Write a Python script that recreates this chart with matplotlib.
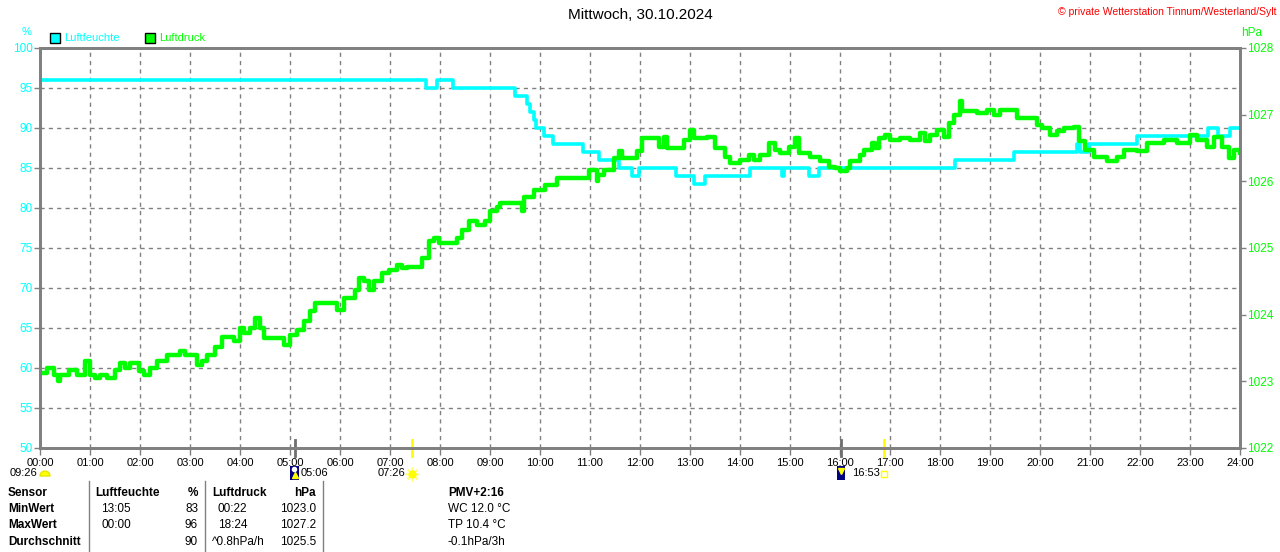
import matplotlib
matplotlib.use("Agg")
import matplotlib.pyplot as plt
from matplotlib.lines import Line2D
from matplotlib.patches import Rectangle, Wedge
from matplotlib.transforms import IdentityTransform, blended_transform_factory

plt.rcParams["font.family"] = ["Liberation Sans", "DejaVu Sans"]

W, H = 1280, 552

# Luftfeuchte (%), Stufen: Zeitpunkt in Stunden -> Wert
feuchte_t = [0.0, 7.72, 7.94, 8.26, 9.50, 9.73, 9.80, 9.87, 9.92, 9.97, 10.07,
             10.25, 10.85, 11.18, 11.57, 11.83, 11.97, 12.72, 13.07, 13.30,
             14.20, 14.83, 14.88, 15.37, 15.57, 18.30, 19.47, 20.73, 20.80,
             20.97, 21.93, 23.36, 23.56, 23.80, 24.0]
feuchte = [96, 95, 96, 95, 94, 93, 92, 91, 90, 90, 89,
           88, 87, 86, 85, 84, 85, 84, 83, 84,
           85, 84, 85, 84, 85, 86, 87, 88, 87,
           88, 89, 90, 89, 90, 90]

# Luftdruck (hPa)
druck_t = [0.00, 0.13, 0.27, 0.35, 0.40, 0.57, 0.73, 0.90, 1.00, 1.10, 1.20,
           1.33, 1.50, 1.60, 1.70, 1.80, 1.97, 2.07, 2.20, 2.33, 2.53, 2.80,
           2.90, 3.13, 3.23, 3.33, 3.50, 3.63, 3.87, 4.00, 4.07, 4.20, 4.30,
           4.40, 4.47, 4.87, 5.00, 5.13, 5.27, 5.40, 5.50, 5.93, 6.07, 6.30,
           6.37, 6.47, 6.57, 6.67, 6.83, 6.97, 7.13, 7.23, 7.33, 7.63, 7.77,
           7.87, 7.97, 8.33, 8.43, 8.57, 8.73, 8.90, 9.00, 9.13, 9.20, 9.63,
           9.67, 9.87, 10.10, 10.33, 10.97, 11.13, 11.15, 11.27, 11.47, 11.57,
           11.63, 11.93, 12.03, 12.37, 12.47, 12.53, 12.87, 12.99, 13.07,
           13.33, 13.50, 13.70, 13.80, 14.00, 14.17, 14.27, 14.40, 14.57,
           14.70, 14.80, 14.97, 15.10, 15.17, 15.40, 15.60, 15.77, 15.90,
           16.00, 16.13, 16.20, 16.40, 16.47, 16.63, 16.70, 16.77, 16.90,
           17.00, 17.20, 17.40, 17.60, 17.70, 17.80, 17.93, 18.07, 18.17,
           18.27, 18.40, 18.43, 18.73, 18.93, 19.07, 19.20, 19.53, 19.93,
           20.03, 20.20, 20.33, 20.47, 20.67, 20.77, 20.90, 21.07, 21.33,
           21.53, 21.67, 21.93, 22.13, 22.47, 22.73, 23.00, 23.13, 23.33,
           23.47, 23.63, 23.77, 23.87, 24.00]
druck = [1023.12, 1023.20, 1023.10, 1023.00, 1023.10, 1023.17, 1023.10, 1023.30,
         1023.10, 1023.05, 1023.10, 1023.05, 1023.17, 1023.27, 1023.20, 1023.27,
         1023.15, 1023.10, 1023.20, 1023.30, 1023.40, 1023.45, 1023.40, 1023.25,
         1023.30, 1023.40, 1023.52, 1023.67, 1023.60, 1023.80, 1023.72, 1023.80,
         1023.95, 1023.80, 1023.65, 1023.55, 1023.70, 1023.77, 1023.90, 1024.05,
         1024.17, 1024.07, 1024.25, 1024.37, 1024.55, 1024.50, 1024.37, 1024.50,
         1024.62, 1024.67, 1024.75, 1024.70, 1024.72, 1024.85, 1025.10, 1025.15,
         1025.08, 1025.15, 1025.27, 1025.40, 1025.35, 1025.40, 1025.55, 1025.62,
         1025.67, 1025.55, 1025.77, 1025.87, 1025.95, 1026.05, 1026.17, 1026.00,
         1026.10, 1026.17, 1026.35, 1026.45, 1026.35, 1026.45, 1026.65, 1026.52,
         1026.67, 1026.50, 1026.62, 1026.77, 1026.65, 1026.67, 1026.50, 1026.37,
         1026.27, 1026.32, 1026.40, 1026.32, 1026.40, 1026.57, 1026.47, 1026.42,
         1026.52, 1026.65, 1026.42, 1026.37, 1026.30, 1026.22, 1026.20, 1026.15,
         1026.20, 1026.30, 1026.40, 1026.47, 1026.57, 1026.50, 1026.65, 1026.70,
         1026.62, 1026.65, 1026.62, 1026.72, 1026.60, 1026.70, 1026.77, 1026.67,
         1026.87, 1027.00, 1027.20, 1027.05, 1027.03, 1027.07, 1027.00, 1027.07,
         1026.95, 1026.85, 1026.80, 1026.70, 1026.75, 1026.80, 1026.82, 1026.60,
         1026.47, 1026.37, 1026.30, 1026.37, 1026.47, 1026.45, 1026.57, 1026.62,
         1026.57, 1026.70, 1026.62, 1026.52, 1026.67, 1026.52, 1026.35, 1026.47,
         1026.40]

stunden = list(range(25))
stunden_labels = ["%02d:00" % h for h in stunden]
prozent_ticks = list(range(50, 101, 5))
hpa_ticks = list(range(1022, 1029))

# Sonne / Mond
mond_auf, sonne_auf, mond_unter, sonne_unter = 5.1, 7.4333, 16.02, 16.8833

# Tabelle
kopf = ["Sensor", "Luftfeuchte", "%", "Luftdruck", "hPa", "PMV+2:16"]
zeilen = ["MinWert", "MaxWert", "Durchschnitt"]
feuchte_zeit = ["13:05", "00:00", ""]
feuchte_wert = ["83", "96", "90"]
druck_zeit = ["00:22", "18:24", "^0.8hPa/h"]
druck_wert = ["1023.0", "1027.2", "1025.5"]
extra = ["WC 12.0 \u00b0C", "TP 10.4 \u00b0C", "-0.1hPa/3h"]

CYAN = "#00FFFF"
GRUEN = "#00FF00"
GRAU = "#808080"


def fx(x):
    return x / W


def fy(y):
    return 1 - y / H


fig = plt.figure(figsize=(12.8, 5.52), dpi=100)
fig.patch.set_facecolor("white")
ax = fig.add_axes([fx(40), fy(448), 1200 / W, 400 / H])
ax2 = ax.twinx()

ax.plot(feuchte_t, feuchte, color=CYAN, lw=2.6, drawstyle="steps-post", solid_capstyle="butt")
ax2.plot(druck_t, druck, color=GRUEN, lw=3.2, drawstyle="steps-post", solid_capstyle="butt")

ax.set_xlim(0, 24)
ax.set_ylim(50, 100)
ax2.set_ylim(1022, 1028)
ax.set_xticks(stunden)
ax.set_xticklabels(stunden_labels)
ax.set_yticks(prozent_ticks)
ax2.set_yticks(hpa_ticks)

ax.grid(True, color=GRAU, linestyle=(0, (3, 3)), linewidth=1)
ax.set_axisbelow(True)

for a in (ax, ax2):
    for s in a.spines.values():
        s.set_color(GRAU)
        s.set_linewidth(2)
ax.tick_params(axis="x", colors=GRAU, labelcolor="black", labelsize=8, length=5, width=1, pad=2)
ax.tick_params(axis="y", colors=GRAU, labelcolor=CYAN, labelsize=8.5, length=4, width=1, pad=1)
ax2.tick_params(axis="y", colors=GRAU, labelcolor=GRUEN, labelsize=8.5, length=4, width=1, pad=1)

# Markierungen an der Zeitachse
trans = blended_transform_factory(ax.transData, ax.transAxes)
for t in (mond_auf, mond_unter):
    ax.plot([t, t], [-0.02, 0.02], color="#6e6e6e", lw=2, transform=trans, clip_on=False)
for t in (sonne_auf, sonne_unter):
    ax.plot([t, t], [-0.02, 0.02], color="#FFFF00", lw=2, transform=trans, clip_on=False)

# Titel und Beschriftungen
fig.text(fx(640), fy(15), "Mittwoch, 30.10.2024", ha="center", va="center", fontsize=11)
fig.text(fx(1276), fy(12), "\u00a9 private Wetterstation Tinnum/Westerland/Sylt",
         ha="right", va="center", fontsize=7.5, color="red")
fig.text(fx(27), fy(32), "%", ha="center", va="center", fontsize=8, color=CYAN)
fig.text(fx(1241), fy(33), "hPa", ha="left", va="center", fontsize=8.5, color=GRUEN)

# Legende
ident = IdentityTransform()
for x0, farbe, name in ((50, CYAN, "Luftfeuchte"), (145, GRUEN, "Luftdruck")):
    fig.add_artist(Rectangle((x0, H - 43), 10, 10, facecolor=farbe, edgecolor="black",
                             lw=1, transform=ident))
    fig.text(fx(x0 + 14), fy(38), name, ha="left", va="center", fontsize=8, color=farbe)

# Sonne / Mond Symbole
fig.text(fx(37), fy(473), "09:26", ha="right", va="center", fontsize=8)
fig.add_artist(Wedge((45, H - 476), 5, 0, 180, facecolor="#FFFF00", edgecolor="#E6E600",
                     transform=ident))
fig.add_artist(Rectangle((290, H - 480), 9, 14, facecolor="#000080", transform=ident))
fig.add_artist(Line2D([295], [H - 475], marker="^", ms=4, color="#FFFF00", transform=ident))
fig.add_artist(Line2D([294], [H - 469], marker="o", ms=3, color="white", transform=ident))
fig.text(fx(301), fy(473), "05:06", ha="left", va="center", fontsize=8)
fig.text(fx(405), fy(473), "07:26", ha="right", va="center", fontsize=8)
fig.add_artist(Line2D([412], [H - 474], marker=(8, 2, 0), ms=10, color="#FFFF80", transform=ident))
fig.add_artist(Line2D([412], [H - 474], marker="o", ms=5, color="#FFFF00", transform=ident))
fig.add_artist(Rectangle((837, H - 480), 8, 14, facecolor="#000080", transform=ident))
fig.add_artist(Line2D([841], [H - 471], marker="v", ms=4, color="#FFFF00", transform=ident))
fig.text(fx(852), fy(473), "16:53", ha="left", va="center", fontsize=8)
fig.add_artist(Line2D([884], [H - 474], marker="s", ms=4, mfc="white", mec="#FFFF00",
                      transform=ident))

# Tabelle
zeile_y = [493, 509, 525, 542]
fett = dict(fontsize=8.5, fontweight="bold", va="center")
norm = dict(fontsize=8.5, va="center")
fig.text(fx(8), fy(zeile_y[0]), kopf[0], ha="left", **fett)
fig.text(fx(95), fy(zeile_y[0]), kopf[1], ha="left", **fett)
fig.text(fx(198), fy(zeile_y[0]), kopf[2], ha="right", **fett)
fig.text(fx(212), fy(zeile_y[0]), kopf[3], ha="left", **fett)
fig.text(fx(316), fy(zeile_y[0]), kopf[4], ha="right", **fett)
fig.text(fx(448), fy(zeile_y[0]), kopf[5], ha="left", **fett)
for i, name in enumerate(zeilen):
    y = fy(zeile_y[i + 1])
    fig.text(fx(8), y, name, ha="left", **fett)
    fig.text(fx(101), y, feuchte_zeit[i], ha="left", **norm)
    fig.text(fx(198), y, feuchte_wert[i], ha="right", **norm)
    fig.text(fx(218) if i < 2 else fx(212), y, druck_zeit[i], ha="left", **norm)
    fig.text(fx(316), y, druck_wert[i], ha="right", **norm)
    fig.text(fx(448), y, extra[i], ha="left", **norm)
for x in (89, 205, 323):
    fig.add_artist(Line2D([x, x], [0, H - 481], color=GRAU, lw=1, transform=ident))

fig.savefig("out.png", dpi=100, facecolor="white")
